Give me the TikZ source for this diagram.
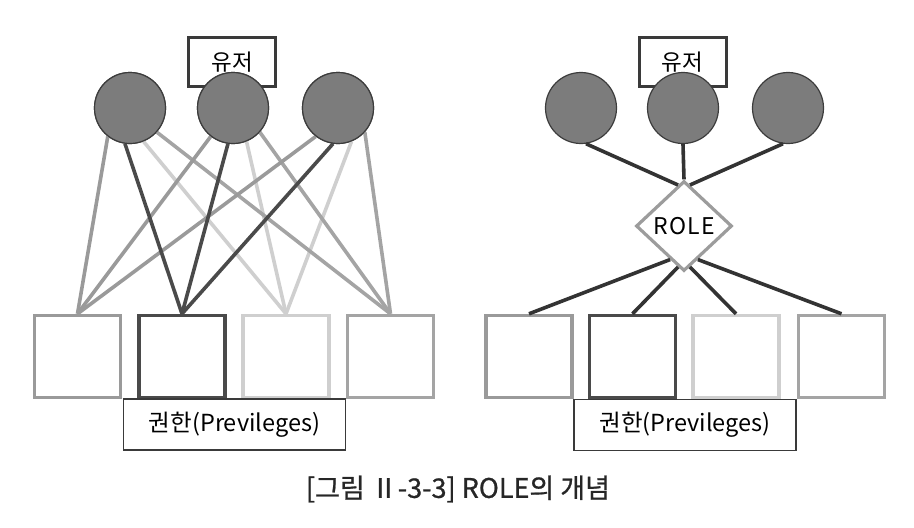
\documentclass[tikz,border=0pt]{standalone}
\usepackage{fontspec}
\setmainfont{Noto Sans CJK KR}
\newfontfamily\capfont[FakeBold=0.8]{Noto Sans CJK KR}
\newfontfamily\rolefont[LetterSpace=6]{Noto Sans CJK KR}
\usetikzlibrary{shapes.geometric,calc}
\definecolor{cfill}{HTML}{7C7C7C}
\definecolor{cedge}{HTML}{3C3C3C}
\definecolor{gA}{HTML}{9A9A9A}
\definecolor{gB}{HTML}{4A4A4A}
\definecolor{gC}{HTML}{CFCFCF}
\definecolor{gD}{HTML}{A4A4A4}
\definecolor{boxedge}{HTML}{3A3A3A}
\definecolor{rolegray}{HTML}{9C9C9C}
\definecolor{rline}{HTML}{333333}
\tikzset{
  usr/.style={circle, draw=cedge, fill=cfill, line width=1.2pt, minimum size=71pt, inner sep=0pt},
  perm/.style={rectangle, draw=#1, line width=3.4pt, minimum width=86pt, minimum height=82pt, inner sep=0pt},
  tagbox/.style={rectangle, draw=boxedge, line width=3pt, minimum width=87pt, minimum height=49pt, inner sep=0pt, font=\fontsize{22.5}{26}\selectfont, fill=white},
  permbox/.style={rectangle, draw=boxedge, line width=1.8pt, minimum width=222pt, minimum height=51pt, inner sep=0pt, font=\fontsize{23.5}{26}\selectfont, fill=white},
  conn/.style={line width=3.6pt, draw=#1},
  rconn/.style={line width=3.6pt, draw=rline},
}
\begin{document}
\begin{tikzpicture}[x=1pt,y=-1pt]
\useasboundingbox (0,0) rectangle (914,528);
% ---------------- left ----------------
\node[tagbox] (ltag) at (232,62) {유저};
\node[perm=gA] (l1) at (77.5,356.5) {};
\node[perm=gB] (l2) at (182,356.5) {};
\node[perm=gC] (l3) at (286,356.5) {};
\node[perm=gD] (l4) at (390.5,356.5) {};
\node[usr] (a1) at (130,108) {};
\node[usr] (a2) at (233,108) {};
\node[usr] (a3) at (338,108) {};
% connectors (drawn, then circles redrawn on top)
\foreach \c in {a1,a2,a3}{
  \draw[conn=gC] (\c.292) -- (l3.north);
}
\foreach \c in {a1,a2,a3}{
  \draw[conn=gA] (\c.232) -- (l1.north);
  \draw[conn=gD] (\c.318) -- (l4.north);
}
\foreach \c in {a1,a2,a3}{
  \draw[conn=gB] (\c.262) -- (l2.north);
}
\node[usr] at (a1) {};
\node[usr] at (a2) {};
\node[usr] at (a3) {};
\node[permbox] (lp) at (234.5,424.5) {권한(Previleges)};
% ---------------- right ----------------
\node[tagbox] (rtag) at (682.5,62) {유저};
\node[perm=gA] (r1) at (529,356.5) {};
\node[perm=gB] (r2) at (632.5,356.5) {};
\node[perm=gC] (r3) at (736,356.5) {};
\node[perm=gD] (r4) at (841.5,356.5) {};
\node[usr] (b1) at (581,108) {};
\node[usr] (b2) at (683,108) {};
\node[usr] (b3) at (788,108) {};
\node[diamond, draw=rolegray, line width=3.2pt, fill=white, minimum width=96pt, minimum height=90pt, inner sep=0pt, font=\rolefont\fontsize{23}{26}\selectfont] (role) at (684,226) {ROLE};
\coordinate (rt1) at ($(role.north)!0.12!(role.west)$);
\coordinate (rt3) at ($(role.north)!0.12!(role.east)$);
\coordinate (rb1) at ($(role.south)!0.28!(role.west)$);
\coordinate (rb2) at ($(role.south)!0.12!(role.west)$);
\coordinate (rb3) at ($(role.south)!0.12!(role.east)$);
\coordinate (rb4) at ($(role.south)!0.28!(role.east)$);
\draw[rconn] (b1.278) -- (rt1);
\draw[rconn] (b2.south) -- (role.north);
\draw[rconn] (b3.262) -- (rt3);
\draw[rconn] (rb1) -- (r1.north);
\draw[rconn] (rb2) -- (r2.north);
\draw[rconn] (rb3) -- (r3.north);
\draw[rconn] (rb4) -- (r4.north);
\node[permbox] (rp) at (685,425) {권한(Previleges)};
% ---------------- caption ----------------
\node[font=\capfont\fontsize{27}{30}\selectfont, text=black!85] (cap) at (458,489) {[그림 Ⅱ-3-3] ROLE의 개념};
\end{tikzpicture}
\end{document}
